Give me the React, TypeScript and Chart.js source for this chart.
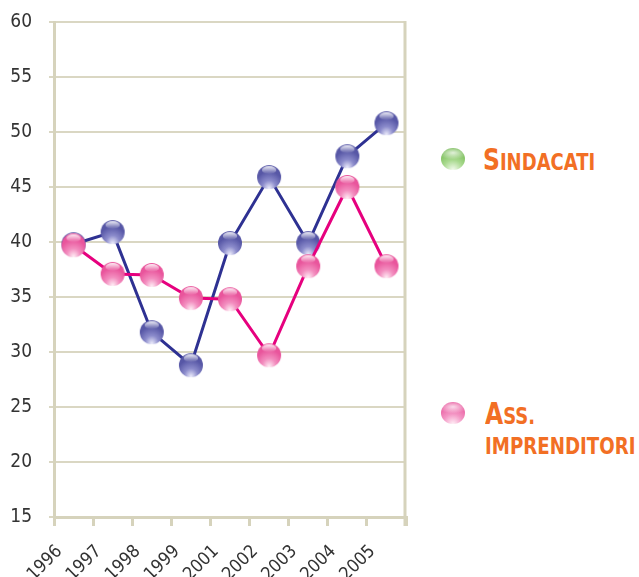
import React, { useEffect, useRef } from "react";
import { Chart, registerables } from "chart.js";

Chart.register(...registerables);

const years = ["1996", "1997", "1998", "1999", "2001", "2002", "2003", "2004", "2005"];
const sindacati = [39.8, 40.9, 31.8, 28.8, 39.9, 45.9, 39.9, 47.8, 50.8];
const imprenditori = [39.7, 37.1, 37.0, 34.9, 34.8, 29.7, 37.8, 45.0, 37.8];
const yMin = 15;
const yMax = 60;
const yStep = 5;

const FONT = "'DejaVu Sans Condensed', 'DejaVu Sans', sans-serif";
const GRID = "#dad7c3";
const AXIS = "#d6d3bc";

function makeBall(dark: string, mid: string, light: string, r: number): HTMLCanvasElement {
  const size = Math.ceil(r * 2 + 2);
  const c = document.createElement("canvas");
  c.width = size;
  c.height = size;
  const ctx = c.getContext("2d")!;
  const cx = size / 2;
  const cy = size / 2;
  const g = ctx.createRadialGradient(cx, cy + r * 0.95, 0, cx, cy + r * 0.6, r * 1.55);
  g.addColorStop(0, light);
  g.addColorStop(0.35, mid);
  g.addColorStop(0.75, dark);
  g.addColorStop(1, dark);
  ctx.beginPath();
  ctx.arc(cx, cy, r, 0, Math.PI * 2);
  ctx.fillStyle = g;
  ctx.fill();
  ctx.save();
  ctx.beginPath();
  ctx.ellipse(cx, cy - r * 0.58, r * 0.6, r * 0.33, 0, 0, Math.PI * 2);
  const h = ctx.createLinearGradient(0, cy - r * 0.92, 0, cy - r * 0.25);
  h.addColorStop(0, "rgba(255,255,255,0.9)");
  h.addColorStop(1, "rgba(255,255,255,0)");
  ctx.fillStyle = h;
  ctx.fill();
  ctx.restore();
  return c;
}

const borderPlugin = {
  id: "plotBorder",
  beforeDatasetsDraw(chart: any) {
    const { ctx, chartArea } = chart;
    ctx.save();
    ctx.strokeStyle = AXIS;
    ctx.lineWidth = 3;
    ctx.beginPath();
    ctx.moveTo(chartArea.right - 1, chartArea.top - 1);
    ctx.lineTo(chartArea.right - 1, chartArea.bottom + 9);
    ctx.stroke();
    ctx.restore();
  },
};

const CANVAS_W = 414;

function ChartView() {
  const ref = useRef<HTMLCanvasElement | null>(null);
  useEffect(() => {
    const blueBall = makeBall("#5757a6", "#8c8ccc", "#eeeefc", 12);
    const pinkBall = makeBall("#e9559c", "#f38fc0", "#fff0f6", 12);
    const chart = new Chart(ref.current!, {
      type: "line",
      data: {
        labels: years,
        datasets: [
          {
            label: "Sindacati",
            data: sindacati,
            borderColor: "#2e3192",
            borderWidth: 3,
            pointStyle: blueBall as any,
            order: 1,
          },
          {
            label: "Ass. imprenditori",
            data: imprenditori,
            borderColor: "#e6007e",
            borderWidth: 3,
            pointStyle: pinkBall as any,
            order: 0,
          },
        ],
      },
      options: {
        animation: false,
        responsive: false,
        maintainAspectRatio: false,
        layout: { padding: { top: 22, left: 0, right: CANVAS_W - 406, bottom: 0 } },
        plugins: { legend: { display: false }, tooltip: { enabled: false } },
        scales: {
          x: {
            offset: true,
            grid: {
              offset: true,
              drawOnChartArea: false,
              drawTicks: true,
              tickLength: 9,
              color: AXIS,
              lineWidth: 3,
            },
            border: { display: true, color: AXIS, width: 3 },
            ticks: {
              minRotation: 45,
              maxRotation: 45,
              autoSkip: false,
              padding: 15,
              labelOffset: -14,
              color: "#333333",
              font: { family: FONT, size: 18 },
            },
            afterFit: (s: any) => {
              s.height = 60;
              s.paddingLeft = 0;
              s.paddingRight = 0;
            },
          },
          y: {
            min: yMin,
            max: yMax,
            grid: {
              color: GRID,
              lineWidth: 2,
              tickLength: 5,
            },
            border: { display: true, color: AXIS, width: 3 },
            ticks: {
              stepSize: yStep,
              padding: 17,
              color: "#333333",
              font: { family: FONT, size: 19 },
            },
            afterFit: (s: any) => {
              s.width = 54;
              s.paddingTop = 0;
              s.paddingBottom = 0;
            },
          },
        },
      },
      plugins: [borderPlugin],
    });
    return () => chart.destroy();
  }, []);
  return <canvas ref={ref} width={CANVAS_W} height={577} style={{ position: "absolute", left: 0, top: 0 }} />;
}

const legendText: React.CSSProperties = {
  position: "absolute",
  color: "#f26f24",
  fontFamily: FONT,
  fontWeight: "bold",
  whiteSpace: "nowrap",
  lineHeight: 1,
  transformOrigin: "0 0",
};

function Ball({ x, y, dark, mid, light }: { x: number; y: number; dark: string; mid: string; light: string }) {
  return (
    <div
      style={{
        position: "absolute",
        left: x - 12,
        top: y - 11,
        width: 24,
        height: 22,
        borderRadius: "50%",
        background: `radial-gradient(ellipse 60% 30% at 50% 22%, rgba(255,255,255,0.75) 0%, rgba(255,255,255,0) 100%), radial-gradient(circle at 50% 100%, ${light} 0%, ${mid} 40%, ${dark} 85%)`,
      }}
    />
  );
}

export default function App() {
  return (
    <div style={{ position: "absolute", left: 0, top: 0, width: 639, height: 577, background: "#ffffff", overflow: "hidden" }}>
      <ChartView />
      <Ball x={453} y={159} dark="#72b850" mid="#a8d98e" light="#f4fbef" />
      <div style={{ ...legendText, left: 483, top: 145, transform: "scaleX(0.87)" }}>
        <span style={{ fontSize: 30 }}>S</span>
        <span style={{ fontSize: 23 }}>INDACATI</span>
      </div>
      <Ball x={453} y={413} dark="#e8559c" mid="#f395c4" light="#fff0f7" />
      <div style={{ ...legendText, left: 485, top: 399, transform: "scaleX(0.87)" }}>
        <span style={{ fontSize: 30 }}>A</span>
        <span style={{ fontSize: 23 }}>SS.</span>
      </div>
      <div style={{ ...legendText, left: 485, top: 435, fontSize: 23, transform: "scaleX(0.88)" }}>IMPRENDITORI</div>
    </div>
  );
}
